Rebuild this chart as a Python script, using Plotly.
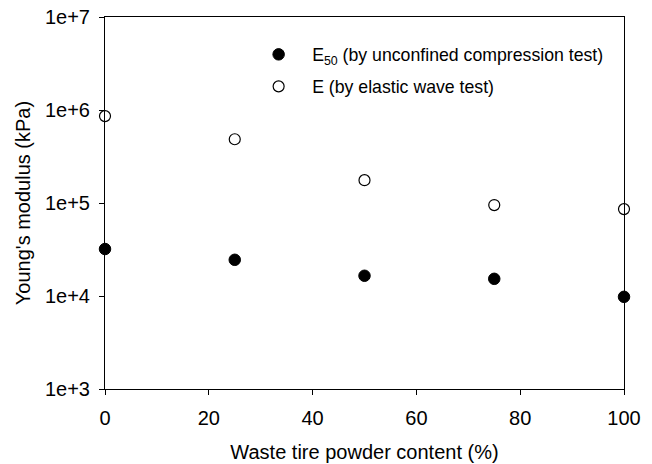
import plotly.graph_objects as go

content = [0, 25, 50, 75, 100]
e50_kpa = [32000, 24500, 16500, 15300, 9800]
e_wave_kpa = [860000, 485000, 176000, 95000, 86000]
ytick_vals = [1e3, 1e4, 1e5, 1e6, 1e7]
ytick_text = ["1e+3", "1e+4", "1e+5", "1e+6", "1e+7"]
xtick_vals = [0, 20, 40, 60, 80, 100]

fig = go.Figure()
fig.add_trace(go.Scatter(
    x=content, y=e50_kpa, mode="markers",
    name="E<sub>50</sub> (by unconfined compression test)",
    legendgroup="a",
    marker=dict(symbol="circle", size=11.5, color="black", line=dict(color="black", width=1)),
    cliponaxis=False,
))
fig.add_trace(go.Scatter(
    x=content, y=e_wave_kpa, mode="markers",
    name="E (by elastic wave test)",
    legendgroup="b",
    marker=dict(symbol="circle", size=11, color="white", line=dict(color="black", width=1.2)),
    cliponaxis=False,
))

font = "Liberation Sans, Arial, sans-serif"
fig.update_layout(
    width=652, height=464,
    margin=dict(l=105, r=28, t=17, b=75, autoexpand=False),
    paper_bgcolor="white", plot_bgcolor="white",
    font=dict(family=font, size=20, color="black"),
    showlegend=True,
    legend=dict(
        x=0.27, y=0.948, xanchor="left", yanchor="top",
        font=dict(size=17.7), bgcolor="rgba(0,0,0,0)",
        tracegroupgap=6, traceorder="grouped", itemwidth=57,
    ),
    xaxis=dict(
        range=[0, 100], tickvals=xtick_vals, automargin=False,
        showline=True, linecolor="black", linewidth=1, mirror=True,
        ticks="outside", ticklen=5, tickcolor="black", ticklabelstandoff=6,
        showgrid=False, zeroline=False,
        title=dict(text="Waste tire powder content (%)", font=dict(size=20), standoff=16),
        tickfont=dict(size=20),
    ),
    yaxis=dict(
        type="log", range=[3, 7], tickvals=ytick_vals, ticktext=ytick_text, automargin=False,
        showline=True, linecolor="black", linewidth=1, mirror=True,
        ticks="outside", ticklen=5, tickcolor="black", ticklabelstandoff=5,
        showgrid=False, zeroline=False,
        title=dict(text="Young's modulus (kPa)", font=dict(size=20), standoff=8),
        tickfont=dict(size=20),
    ),
)

fig.write_html("out.html")
